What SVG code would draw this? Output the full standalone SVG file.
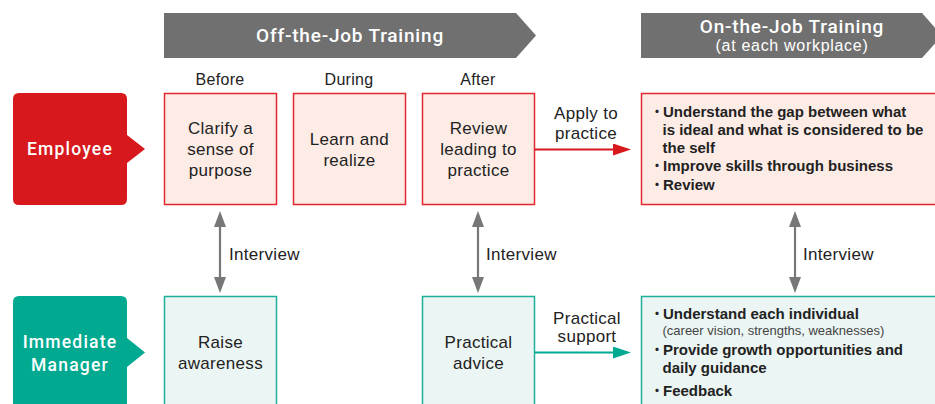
<svg xmlns="http://www.w3.org/2000/svg" width="935" height="404" viewBox="0 0 935 404">
<style>
text{font-family:"Liberation Sans",Arial,sans-serif;fill:#222}
.banner{fill:#707070}
.btitle{font-family:Roboto,"Liberation Sans",sans-serif;font-size:19px;font-weight:500;fill:#fff;letter-spacing:0.8px}
.bsub{font-size:16px;fill:#fff;letter-spacing:0.7px}
.phase{font-size:16px;letter-spacing:0.3px}
.ebox{fill:#fdece6;stroke:#e2272d;stroke-width:1.5}
.mbox{fill:#ebf5f3;stroke:#1db09a;stroke-width:1.5}
.btxt{font-size:17px;letter-spacing:0.3px}
.role{font-family:Roboto,"Liberation Sans",sans-serif;font-size:17.5px;font-weight:500;fill:#fff;letter-spacing:1.2px}
.bul{font-size:15px;font-weight:bold}
.dot{font-family:"Noto Sans CJK JP","Noto Sans CJK SC",sans-serif;font-size:15px;font-weight:normal}
.sub{font-size:13px;fill:#444}
.lbl{font-size:17px;letter-spacing:0.3px}
.gray{stroke:#777;stroke-width:2.2;fill:none}
</style>
<defs>
<marker id="ga" viewBox="0 0 16 12" refX="12" refY="6" markerWidth="16" markerHeight="12" markerUnits="userSpaceOnUse" orient="auto-start-reverse"><path d="M0,0 L16,6 L0,12 Z" fill="#777"/></marker>
<marker id="ra" viewBox="0 0 18 12" refX="14" refY="6" markerWidth="18" markerHeight="12" markerUnits="userSpaceOnUse" orient="auto"><path d="M0,0 L18,6 L0,12 Z" fill="#d7181d"/></marker>
<marker id="ta" viewBox="0 0 18 12" refX="14" refY="6" markerWidth="18" markerHeight="12" markerUnits="userSpaceOnUse" orient="auto"><path d="M0,0 L18,6 L0,12 Z" fill="#00a98f"/></marker>
</defs>

<g id="banner-off">
<polygon class="banner" points="164,13 516,13 536,35.5 516,58 164,58"/>
<text class="btitle" x="350" y="42" text-anchor="middle">Off-the-Job Training</text>
</g>
<g id="banner-on">
<polygon class="banner" points="641,13 922,13 942,35.5 922,58 641,58"/>
<text class="btitle" x="792" y="33" text-anchor="middle">On-the-Job Training</text>
<text class="bsub" x="792" y="50.5" text-anchor="middle">(at each workplace)</text>
</g>
<g id="phases">
<text class="phase" x="220" y="85" text-anchor="middle">Before</text>
<text class="phase" x="349" y="85" text-anchor="middle">During</text>
<text class="phase" x="478" y="85" text-anchor="middle">After</text>
</g>

<g id="employee">
<path d="M19,93 H121 Q127,93 127,99 V135 L145,149 L127,163 V199 Q127,205 121,205 H19 Q13,205 13,199 V99 Q13,93 19,93 Z" fill="#d7181d"/>
<text class="role" x="70" y="155" text-anchor="middle">Employee</text>
</g>
<g id="manager">
<path d="M19,296 H121 Q127,296 127,302 V338 L145,352.5 L127,367 V410 H13 V302 Q13,296 19,296 Z" fill="#00a98f"/>
<text class="role" x="70" y="348" text-anchor="middle">Immediate</text>
<text class="role" x="70" y="371" text-anchor="middle">Manager</text>
</g>

<g id="clarify">
<rect class="ebox" x="164.5" y="93.5" width="112" height="111"/>
<text class="btxt" x="220.5" y="134" text-anchor="middle">Clarify a</text>
<text class="btxt" x="220.5" y="155" text-anchor="middle">sense of</text>
<text class="btxt" x="220.5" y="176" text-anchor="middle">purpose</text>
</g>
<g id="learn">
<rect class="ebox" x="293.5" y="93.5" width="112" height="111"/>
<text class="btxt" x="349.5" y="145" text-anchor="middle">Learn and</text>
<text class="btxt" x="349.5" y="166" text-anchor="middle">realize</text>
</g>
<g id="review">
<rect class="ebox" x="422.5" y="93.5" width="112" height="111"/>
<text class="btxt" x="478.5" y="134" text-anchor="middle">Review</text>
<text class="btxt" x="478.5" y="155" text-anchor="middle">leading to</text>
<text class="btxt" x="478.5" y="176" text-anchor="middle">practice</text>
</g>
<g id="ojt-employee">
<rect class="ebox" x="641.5" y="93.5" width="310" height="111"/>
<text class="bul"><tspan class="dot" x="649.5" y="116.5">・</tspan><tspan x="663" y="116.5">Understand the gap between what</tspan></text>
<text class="bul" x="662.5" y="134.5">is ideal and what is considered to be</text>
<text class="bul" x="662.5" y="152.5">the self</text>
<text class="bul"><tspan class="dot" x="649.5" y="171">・</tspan><tspan x="663" y="171">Improve skills through business</tspan></text>
<text class="bul"><tspan class="dot" x="649.5" y="190">・</tspan><tspan x="663" y="190">Review</tspan></text>
</g>

<g id="raise">
<rect class="mbox" x="164.5" y="296.5" width="112" height="120"/>
<text class="btxt" x="220.5" y="348" text-anchor="middle">Raise</text>
<text class="btxt" x="220.5" y="368.5" text-anchor="middle">awareness</text>
</g>
<g id="advice">
<rect class="mbox" x="422.5" y="296.5" width="112" height="120"/>
<text class="btxt" x="478.5" y="348" text-anchor="middle">Practical</text>
<text class="btxt" x="478.5" y="368.5" text-anchor="middle">advice</text>
</g>
<g id="ojt-manager">
<rect class="mbox" x="641.5" y="296.5" width="310" height="120"/>
<text class="bul"><tspan class="dot" x="649.5" y="318.5">・</tspan><tspan x="663" y="318.5">Understand each individual</tspan></text>
<text class="sub" x="662.5" y="334.5">(career vision, strengths, weaknesses)</text>
<text class="bul"><tspan class="dot" x="649.5" y="355">・</tspan><tspan x="663" y="355">Provide growth opportunities and</tspan></text>
<text class="bul" x="662.5" y="373">daily guidance</text>
<text class="bul"><tspan class="dot" x="649.5" y="396">・</tspan><tspan x="663" y="396">Feedback</tspan></text>
</g>

<g id="connectors">
<line class="gray" x1="220" y1="215" x2="220" y2="289" marker-start="url(#ga)" marker-end="url(#ga)"/>
<line class="gray" x1="478" y1="215" x2="478" y2="289" marker-start="url(#ga)" marker-end="url(#ga)"/>
<line class="gray" x1="795" y1="215" x2="795" y2="289" marker-start="url(#ga)" marker-end="url(#ga)"/>
<text class="lbl" x="229" y="260">Interview</text>
<text class="lbl" x="486" y="260">Interview</text>
<text class="lbl" x="803" y="260">Interview</text>
<line x1="535" y1="149.5" x2="627" y2="149.5" stroke="#d7181d" stroke-width="2.2" marker-end="url(#ra)"/>
<text class="lbl" x="586" y="119" text-anchor="middle">Apply to</text>
<text class="lbl" x="586" y="138.5" text-anchor="middle">practice</text>
<line x1="535" y1="352.5" x2="627" y2="352.5" stroke="#00a98f" stroke-width="2.2" marker-end="url(#ta)"/>
<text class="lbl" x="587" y="323.5" text-anchor="middle">Practical</text>
<text class="lbl" x="587" y="342" text-anchor="middle">support</text>
</g>
</svg>
